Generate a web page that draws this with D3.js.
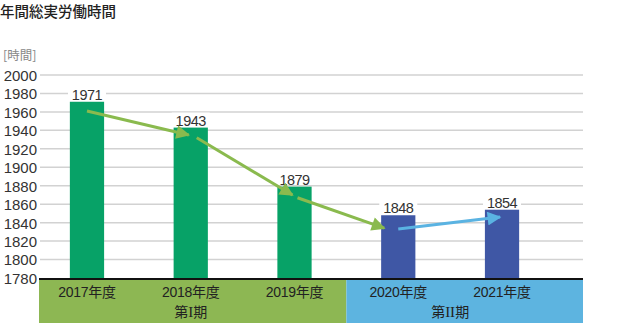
<!DOCTYPE html>
<html><head><meta charset="utf-8">
<script src="https://cdn.jsdelivr.net/npm/d3@7"></script>
<style>body{margin:0;background:#fff}svg{display:block}</style>
</head><body><svg id="c" width="620" height="323"></svg>
<script>
const categories = ["2017年度","2018年度","2019年度","2020年度","2021年度"];
const values = [1971,1943,1879,1848,1854];
const periodOf = [0,0,0,1,1];
const periods = [["第","I","期"],["第","II","期"]];
const yTicks = [1780,1800,1820,1840,1860,1880,1900,1920,1940,1960,1980,2000];
// trend arrows: [fromCategory, fromValue, toCategory, toValue, period]
const arrows = [
  [0,1961,1,1935,0],
  [1,1932,2,1870,0],
  [2,1867,3,1834,0],
  [3,1833,4,1846,1]
];

const barColors = ["#07a267","#3f57a5"];
const bandColors = ["#8db753","#5db4e0"];
const arrowColors = ["#8aba4e","#5ab3e2"];

const svg = d3.select("#c");
const y = d3.scaleLinear().domain([1780,2000]).range([278,75]);
const x = d3.scaleBand().domain(categories).range([35.1,553.9]).paddingInner(0.67).paddingOuter(0.335);
const gx0 = 40, gx1 = 583;

svg.append("text").attr("x",0).attr("y",17).text("年間総実労働時間")
  .attr("font-family","'Noto Sans CJK JP'").attr("font-size",14.5).attr("font-weight",500).attr("fill","#222");
svg.append("text").attr("x",3).attr("y",60).text("[時間]")
  .attr("font-family","'Noto Sans CJK JP'").attr("font-size",12.5).attr("fill","#888");

// gridlines
svg.append("g").selectAll("line").data(yTicks.slice(1)).join("line")
  .attr("x1",gx0).attr("x2",gx1).attr("y1",d=>y(d)).attr("y2",d=>y(d))
  .attr("stroke","#d2d2d2").attr("stroke-width",1.5);

// y axis labels
const ya = svg.append("g").attr("transform","translate(37,0)")
  .call(d3.axisLeft(y).tickValues(yTicks).tickSize(0).tickPadding(0).tickFormat(d3.format("d")));
ya.select(".domain").remove();
ya.selectAll("text").attr("font-family","'Liberation Sans',Arial").attr("font-size",15).attr("fill","#333").attr("dy","0.36em");

// bars
svg.append("g").selectAll("rect").data(values).join("rect")
  .attr("x",(d,i)=>x(categories[i])).attr("width",x.bandwidth())
  .attr("y",d=>y(d)).attr("height",d=>y(1780)-y(d))
  .attr("fill",(d,i)=>barColors[periodOf[i]]);

// value labels with white backgrounds
const lab = svg.append("g").selectAll("g").data(values).join("g")
  .attr("transform",(d,i)=>`translate(${x(categories[i])+x.bandwidth()/2},${y(d)-2})`);
lab.append("rect").attr("x",-19).attr("width",38).attr("y",-13).attr("height",12).attr("fill","#fff");
lab.append("text").attr("text-anchor","middle").text(d=>d)
  .attr("font-family","'Liberation Sans',Arial").attr("font-size",14.5).attr("fill","#333").attr("letter-spacing",-0.5);

// bottom bands
const cx = c => x(c)+x.bandwidth()/2;
const split = (cx(categories[2])+cx(categories[3]))/2;
svg.append("rect").attr("x",39).attr("y",279).attr("width",split-39).attr("height",44).attr("fill",bandColors[0]);
svg.append("rect").attr("x",split).attr("y",279).attr("width",gx1-split).attr("height",44).attr("fill",bandColors[1]);
svg.append("line").attr("x1",gx0-1).attr("x2",gx1).attr("y1",279).attr("y2",279).attr("stroke","#111").attr("stroke-width",2);

svg.append("g").selectAll("text").data(categories).join("text")
  .attr("x",d=>cx(d)).attr("y",297).attr("text-anchor","middle").text(d=>d)
  .attr("font-family","'Liberation Sans','Noto Sans CJK JP'").attr("font-size",14).attr("fill","#222").attr("letter-spacing",-0.3);

const periodX = periods.map((p,k)=>{
  const idx = categories.map((c,i)=>i).filter(i=>periodOf[i]===k);
  return d3.mean(idx, i=>cx(categories[i]));
});
const pt = svg.append("g").selectAll("text").data(periods).join("text")
  .attr("x",(d,k)=>periodX[k]).attr("y",317).attr("text-anchor","middle")
  .attr("font-family","'Noto Sans CJK JP'").attr("font-size",14).attr("fill","#222");
pt.selectAll("tspan").data(d=>d).join("tspan").text(d=>d)
  .attr("font-family",(d,i)=>i===1?"'Liberation Serif',serif":null)
  .attr("font-size",(d,i)=>i===1?15:null);

// arrows
const defs = svg.append("defs");
arrowColors.forEach((col,k)=>{
  defs.append("marker").attr("id","ah"+k).attr("viewBox","0 0 10 10").attr("refX",9).attr("refY",5)
    .attr("markerWidth",5.2).attr("markerHeight",4.6).attr("markerUnits","strokeWidth").attr("orient","auto")
    .append("path").attr("d","M0,0L10,5L0,10z").attr("fill",col);
});
const endGap = [2,2,14,2];
const startOff = [0,6,3,0];
svg.append("g").selectAll("line").data(arrows).join("line")
  .attr("x1",(a,i)=>cx(categories[a[0]])+startOff[i]).attr("y1",a=>y(a[1]))
  .attr("x2",(a,i)=>cx(categories[a[2]])-endGap[i]).attr("y2",a=>y(a[3]))
  .attr("stroke",a=>arrowColors[a[4]]).attr("stroke-width",3)
  .attr("marker-end",a=>`url(#ah${a[4]})`);
</script></body></html>
